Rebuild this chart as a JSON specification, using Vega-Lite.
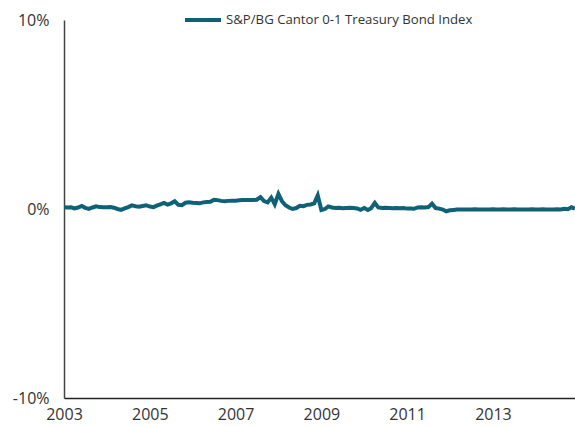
{
  "$schema": "https://vega.github.io/schema/vega-lite/v6.json",
  "width": 511,
  "height": 378,
  "autosize": "none",
  "padding": {"left": 64, "top": 20, "right": 0, "bottom": 29},
  "background": "white",
  "config": {"view": {"stroke": null}, "font": "Open Sans"},
  "data": {"values": [
    {"date": "2003-01-01", "v": 0.09}, {"date": "2003-02-01", "v": 0.08}, {"date": "2003-03-01", "v": 0.09}, {"date": "2003-04-01", "v": 0.03},
    {"date": "2003-05-01", "v": 0.08}, {"date": "2003-06-01", "v": 0.16}, {"date": "2003-07-01", "v": 0.06}, {"date": "2003-08-01", "v": 0.01},
    {"date": "2003-09-01", "v": 0.08}, {"date": "2003-10-01", "v": 0.14}, {"date": "2003-11-01", "v": 0.10}, {"date": "2003-12-01", "v": 0.09},
    {"date": "2004-01-01", "v": 0.09}, {"date": "2004-02-01", "v": 0.10}, {"date": "2004-03-01", "v": 0.07}, {"date": "2004-04-01", "v": 0.00},
    {"date": "2004-05-01", "v": -0.05}, {"date": "2004-06-01", "v": 0.03}, {"date": "2004-07-01", "v": 0.10}, {"date": "2004-08-01", "v": 0.19},
    {"date": "2004-09-01", "v": 0.15}, {"date": "2004-10-01", "v": 0.12}, {"date": "2004-11-01", "v": 0.16}, {"date": "2004-12-01", "v": 0.20},
    {"date": "2005-01-01", "v": 0.13}, {"date": "2005-02-01", "v": 0.10}, {"date": "2005-03-01", "v": 0.18}, {"date": "2005-04-01", "v": 0.25},
    {"date": "2005-05-01", "v": 0.32}, {"date": "2005-06-01", "v": 0.23}, {"date": "2005-07-01", "v": 0.30}, {"date": "2005-08-01", "v": 0.41},
    {"date": "2005-09-01", "v": 0.22}, {"date": "2005-10-01", "v": 0.20}, {"date": "2005-11-01", "v": 0.33}, {"date": "2005-12-01", "v": 0.35},
    {"date": "2006-01-01", "v": 0.33}, {"date": "2006-02-01", "v": 0.32}, {"date": "2006-03-01", "v": 0.30}, {"date": "2006-04-01", "v": 0.35},
    {"date": "2006-05-01", "v": 0.37}, {"date": "2006-06-01", "v": 0.38}, {"date": "2006-07-01", "v": 0.49}, {"date": "2006-08-01", "v": 0.47},
    {"date": "2006-09-01", "v": 0.43}, {"date": "2006-10-01", "v": 0.41}, {"date": "2006-11-01", "v": 0.43}, {"date": "2006-12-01", "v": 0.44},
    {"date": "2007-01-01", "v": 0.44}, {"date": "2007-02-01", "v": 0.46}, {"date": "2007-03-01", "v": 0.47}, {"date": "2007-04-01", "v": 0.48},
    {"date": "2007-05-01", "v": 0.47}, {"date": "2007-06-01", "v": 0.48}, {"date": "2007-07-01", "v": 0.49}, {"date": "2007-08-01", "v": 0.63},
    {"date": "2007-09-01", "v": 0.42}, {"date": "2007-10-01", "v": 0.35}, {"date": "2007-11-01", "v": 0.60}, {"date": "2007-12-01", "v": 0.25},
    {"date": "2008-01-01", "v": 0.80}, {"date": "2008-02-01", "v": 0.40}, {"date": "2008-03-01", "v": 0.20}, {"date": "2008-04-01", "v": 0.08},
    {"date": "2008-05-01", "v": 0.00}, {"date": "2008-06-01", "v": 0.05}, {"date": "2008-07-01", "v": 0.17}, {"date": "2008-08-01", "v": 0.15},
    {"date": "2008-09-01", "v": 0.22}, {"date": "2008-10-01", "v": 0.24}, {"date": "2008-11-01", "v": 0.30}, {"date": "2008-12-01", "v": 0.72},
    {"date": "2009-01-01", "v": -0.05}, {"date": "2009-02-01", "v": 0.00}, {"date": "2009-03-01", "v": 0.14}, {"date": "2009-04-01", "v": 0.08},
    {"date": "2009-05-01", "v": 0.05}, {"date": "2009-06-01", "v": 0.06}, {"date": "2009-07-01", "v": 0.04}, {"date": "2009-08-01", "v": 0.05},
    {"date": "2009-09-01", "v": 0.06}, {"date": "2009-10-01", "v": 0.05}, {"date": "2009-11-01", "v": 0.03}, {"date": "2009-12-01", "v": -0.04},
    {"date": "2010-01-01", "v": 0.05}, {"date": "2010-02-01", "v": -0.05}, {"date": "2010-03-01", "v": 0.04}, {"date": "2010-04-01", "v": 0.32},
    {"date": "2010-05-01", "v": 0.08}, {"date": "2010-06-01", "v": 0.05}, {"date": "2010-07-01", "v": 0.06}, {"date": "2010-08-01", "v": 0.05},
    {"date": "2010-09-01", "v": 0.04}, {"date": "2010-10-01", "v": 0.05}, {"date": "2010-11-01", "v": 0.04}, {"date": "2010-12-01", "v": 0.05},
    {"date": "2011-01-01", "v": 0.02}, {"date": "2011-02-01", "v": 0.02}, {"date": "2011-03-01", "v": 0.01}, {"date": "2011-04-01", "v": 0.08},
    {"date": "2011-05-01", "v": 0.09}, {"date": "2011-06-01", "v": 0.08}, {"date": "2011-07-01", "v": 0.10}, {"date": "2011-08-01", "v": 0.28},
    {"date": "2011-09-01", "v": 0.05}, {"date": "2011-10-01", "v": 0.02}, {"date": "2011-11-01", "v": -0.03}, {"date": "2011-12-01", "v": -0.12},
    {"date": "2012-01-01", "v": -0.07}, {"date": "2012-02-01", "v": -0.05}, {"date": "2012-03-01", "v": -0.03}, {"date": "2012-04-01", "v": -0.02},
    {"date": "2012-05-01", "v": -0.02}, {"date": "2012-06-01", "v": -0.03}, {"date": "2012-07-01", "v": -0.02}, {"date": "2012-08-01", "v": -0.01},
    {"date": "2012-09-01", "v": -0.02}, {"date": "2012-10-01", "v": -0.03}, {"date": "2012-11-01", "v": -0.02}, {"date": "2012-12-01", "v": -0.02},
    {"date": "2013-01-01", "v": -0.01}, {"date": "2013-02-01", "v": -0.02}, {"date": "2013-03-01", "v": -0.03}, {"date": "2013-04-01", "v": -0.01},
    {"date": "2013-05-01", "v": -0.02}, {"date": "2013-06-01", "v": -0.02}, {"date": "2013-07-01", "v": -0.01}, {"date": "2013-08-01", "v": -0.02},
    {"date": "2013-09-01", "v": -0.02}, {"date": "2013-10-01", "v": -0.03}, {"date": "2013-11-01", "v": -0.02}, {"date": "2013-12-01", "v": -0.01},
    {"date": "2014-01-01", "v": -0.02}, {"date": "2014-02-01", "v": -0.02}, {"date": "2014-03-01", "v": -0.01}, {"date": "2014-04-01", "v": -0.02},
    {"date": "2014-05-01", "v": -0.03}, {"date": "2014-06-01", "v": -0.02}, {"date": "2014-07-01", "v": -0.01}, {"date": "2014-08-01", "v": -0.02},
    {"date": "2014-09-01", "v": 0.01}, {"date": "2014-10-01", "v": -0.01}, {"date": "2014-11-01", "v": 0.09}, {"date": "2014-12-01", "v": 0.02}
  ]},
  "mark": {"type": "line", "strokeWidth": 4, "clip": true},
  "encoding": {
    "x": {
      "field": "date", "type": "temporal",
      "scale": {"type": "utc", "domain": [{"year": 2003, "month": 1, "date": 1, "utc": true}, {"year": 2014, "month": 12, "date": 1, "utc": true}]},
      "axis": {
        "title": null, "grid": false, "ticks": false, "domainColor": "#222", "domainWidth": 1.5,
        "values": [{"year": 2003, "utc": true}, {"year": 2005, "utc": true}, {"year": 2007, "utc": true}, {"year": 2009, "utc": true}, {"year": 2011, "utc": true}, {"year": 2013, "utc": true}],
        "format": "%Y", "formatType": "utc", "labelFontSize": 16, "labelColor": "#333", "labelPadding": 8, "labelFlush": false
      }
    },
    "y": {
      "field": "v", "type": "quantitative",
      "scale": {"domain": [-10, 10], "nice": false},
      "axis": {
        "title": null, "grid": false, "ticks": false, "domainColor": "#444", "domainWidth": 1.5,
        "values": [-10, 0, 10], "labelExpr": "datum.value + '%'",
        "labelFontSize": 16, "labelColor": "#333", "labelPadding": 15
      }
    },
    "color": {
      "datum": "S&P/BG Cantor 0-1 Treasury Bond Index",
      "scale": {"range": ["#0e6177"]},
      "legend": {
        "title": null, "orient": "none", "legendX": 119, "legendY": -20,
        "symbolType": "stroke", "symbolSize": 1296, "symbolStrokeWidth": 4,
        "labelFontSize": 13.2, "labelColor": "#333", "labelOffset": 3, "padding": 0, "labelLimit": 0
      }
    }
  }
}
